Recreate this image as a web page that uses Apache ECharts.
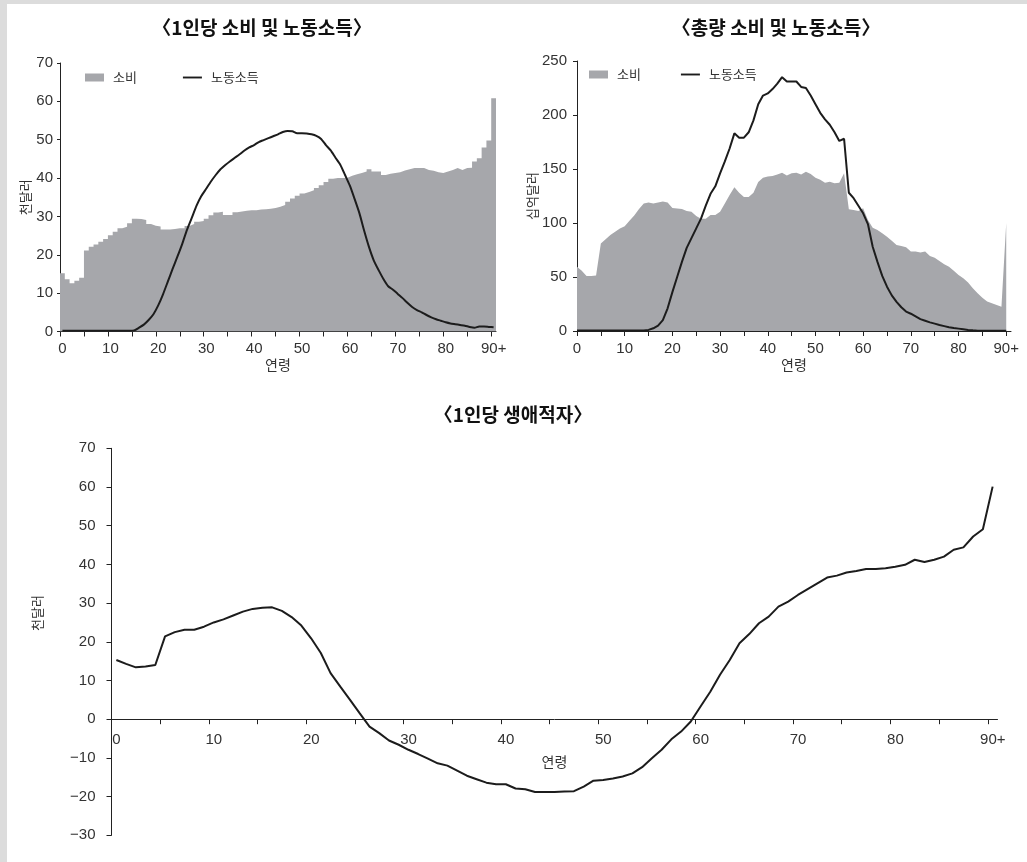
<!DOCTYPE html>
<html>
<head>
<meta charset="utf-8">
<script src="https://cdn.jsdelivr.net/npm/echarts@6/dist/echarts.min.js"></script>
<style>
	html, body { margin: 0; padding: 0; background: #dcdcdc; }
	.paper { position: absolute; left: 7px; top: 4px; right: 0; bottom: 0; background: #fff; }
	#main { position: absolute; left: 0; top: 0; width: 1027px; height: 862px; }
</style>
</head>
<body>
<div class="paper"></div>
<div id="main"></div>
<script>
	// 연령 0 ~ 90+
	var ages = [];
	for (var i = 0; i <= 90; i++) ages.push(i);
	var ageTicks = [0, 5, 10, 15, 20, 25, 30, 35, 40, 45, 50, 55, 60, 65, 70, 75, 80, 85, 90];
	var ageLabels = [0, 10, 20, 30, 40, 50, 60, 70, 80, 90];

	// 1인당 소비 (천달러)
	var perCapitaConsumption = [
		15.2, 13.6, 12.6, 13.2, 14.0, 21.1, 22.1, 22.7, 23.4, 24.1,
		25.1, 26.0, 26.9, 27.3, 28.2, 29.4, 29.3, 29.1, 28.0, 27.6,
		27.4, 26.6, 26.6, 26.7, 26.9, 26.9, 27.5, 28.0, 28.6, 28.8,
		29.4, 30.3, 31.0, 31.2, 30.4, 30.4, 31.1, 31.3, 31.5, 31.6,
		31.6, 31.8, 31.9, 32.0, 32.2, 32.5, 33.0, 33.8, 34.7, 35.4,
		36.0, 36.4, 36.8, 37.4, 38.1, 39.0, 39.8, 40.0, 40.0, 40.1,
		40.6, 41.0, 41.3, 41.7, 42.3, 41.7, 41.7, 40.8, 41.1, 41.3,
		41.5, 42.0, 42.3, 42.6, 42.6, 42.6, 42.1, 41.9, 41.5, 41.3,
		41.7, 42.1, 42.6, 42.1, 42.6, 42.7, 44.3, 45.2, 48.0, 49.8,
		60.8
	];
	// 1인당 노동소득 (천달러)
	var perCapitaLaborIncome = [
		0.2, 0.2, 0.2, 0.2, 0.2, 0.2, 0.2, 0.2, 0.2, 0.2,
		0.2, 0.2, 0.2, 0.2, 0.2, 0.3, 1.0, 1.8, 3.0, 4.5,
		6.8, 9.7, 13.0, 16.3, 19.5, 22.8, 26.5, 29.6, 32.8, 35.3,
		37.2, 39.1, 40.8, 42.3, 43.4, 44.4, 45.3, 46.2, 47.2, 48.0,
		48.6, 49.4, 49.9, 50.4, 50.9, 51.4, 52.0, 52.3, 52.2, 51.7,
		51.7, 51.6, 51.4, 51.0, 50.2, 48.6, 47.2, 45.3, 43.5, 40.8,
		38.0, 34.5, 30.8, 26.2, 22.0, 18.5, 16.0, 13.7, 11.8, 10.9,
		9.8, 8.7, 7.5, 6.4, 5.6, 5.0, 4.3, 3.7, 3.2, 2.8,
		2.4, 2.1, 1.9, 1.7, 1.5, 1.2, 1.0, 1.3, 1.3, 1.2,
		1.1
	];
	// 총량 소비 (십억달러)
	var totalConsumption = [
		59.6, 55.9, 51.0, 51.0, 51.5, 81, 85, 89, 92, 95,
		97, 102, 107, 113, 118, 119, 118, 119, 120, 119,
		114, 113.5, 113, 111, 110.5, 106.5, 104, 104, 107.5, 107.5,
		110.5, 118, 126, 133, 128, 124, 124, 128, 138, 142,
		143, 143.5, 145, 146.6, 144, 146, 146.6, 145, 147.5, 145.4,
		142, 140, 137.3, 138.3, 136.7, 137.3, 146, 112.7, 112, 111,
		113.6, 102.8, 95.7, 93.5, 90.4, 87.3, 83.6, 79.6, 78.7, 77.5,
		73.5, 73.5, 72.8, 73.5, 69.4, 67.9, 64.8, 61.7, 59.6, 55.9,
		51.9, 48.8, 44.8, 39.5, 34.9, 30.9, 27.2, 25.6, 24.1, 22.5,
		100
	];
	// 총량 노동소득 (십억달러)
	var totalLaborIncome = [
		0.5, 0.5, 0.5, 0.5, 0.5, 0.5, 0.5, 0.5, 0.5, 0.5,
		0.5, 0.5, 0.5, 0.5, 0.5, 1, 2.5, 5, 10, 21,
		36, 50, 64, 77, 86, 95, 104, 116, 127, 134,
		146, 157, 169, 183, 179, 179, 184, 195, 210, 218,
		220, 224, 229, 235, 231, 231, 231, 226, 225, 218,
		210, 202, 196, 191, 184, 176, 178, 128, 123, 116,
		109, 99, 78, 64, 51, 41, 33, 27, 22, 18,
		16, 13.5, 11, 9.5, 8, 6.8, 5.5, 4.5, 3.5, 2.8,
		2.2, 1.6, 1.0, 0.6, 0.3, 0.2, 0.2, 0.2, 0.2, 0.2,
		0.2
	];
	// 1인당 생애적자 (천달러)
	var lifecycleDeficit = [
		15.3, 14.3, 13.4, 13.6, 14.0, 21.4, 22.5, 23.1, 23.1, 23.9,
		25.0, 25.8, 26.8, 27.8, 28.5, 28.8, 28.9, 28.0, 26.4, 24.2,
		20.9, 17.1, 11.9, 8.4, 5.0, 1.5, -1.9, -3.6, -5.5, -6.6,
		-7.9, -9.0, -10.2, -11.4, -12.0, -13.3, -14.6, -15.5, -16.4, -16.8,
		-16.8, -17.9, -18.1, -18.8, -18.8, -18.8, -18.7, -18.6, -17.4, -15.9,
		-15.7, -15.3, -14.8, -14.0, -12.4, -10.1, -7.9, -5.2, -3.2, -0.6,
		3.3, 7.1, 11.5, 15.3, 19.6, 22.0, 24.8, 26.5, 29.1, 30.4,
		32.1, 33.6, 35.1, 36.6, 37.1, 37.9, 38.3, 38.8, 38.8, 39.0,
		39.4, 39.9, 41.2, 40.6, 41.2, 42.0, 43.8, 44.4, 47.2, 49.1,
		60.1
	];

	var numFont = "'Liberation Sans', Arial, sans-serif";
	var krFont = "'Noto Sans CJK KR', sans-serif";
	var axisColor = '#222';
	var textColor = '#333';
	var areaColor = '#a6a7ab';
	var lineColor = '#1c1c1c';

	// 막대(계단) 데이터: 각 연령 구간 [a, a+1]
	var stepData = ages.map(function (a, i) { return [a, perCapitaConsumption[i]]; });
	stepData.push([91, perCapitaConsumption[90]]);
	// 선은 연령 구간의 가운데에
	var midPoints = function (arr) {
		return ages.map(function (a, i) { return [a + 0.5, arr[i]]; });
	};
	var atAges = function (arr) {
		return ages.map(function (a, i) { return [a, arr[i]]; });
	};

	function ageAxis(gridIndex, shift, margin, nameGap) {
		return {
			type: 'value',
			gridIndex: gridIndex,
			min: 0,
			max: 91,
			name: '연령',
			nameLocation: 'middle',
			nameGap: nameGap,
			nameTextStyle: { color: textColor, fontSize: 14, fontFamily: krFont },
			axisLine: { show: true, onZero: false, lineStyle: { color: axisColor, width: 1 } },
			axisTick: { show: true, length: 5, inside: false, customValues: ageTicks, lineStyle: { color: axisColor } },
			axisLabel: {
				customValues: ageLabels,
				margin: margin,
				padding: [0, 0, 0, shift],
				color: textColor,
				fontSize: 15,
				fontFamily: numFont,
				formatter: function (v) { return v === 90 ? '90+' : String(v); }
			},
			splitLine: { show: false }
		};
	}

	function valueAxis(gridIndex, min, max, interval, tickLen, margin, name, nameGap) {
		return {
			type: 'value',
			gridIndex: gridIndex,
			min: min,
			max: max,
			interval: interval,
			name: name,
			nameLocation: 'middle',
			nameGap: nameGap,
			nameRotate: 90,
			nameTextStyle: { color: textColor, fontSize: 13, fontFamily: krFont },
			axisLine: { show: true, onZero: false, lineStyle: { color: axisColor, width: 1 } },
			axisTick: { show: true, length: tickLen, lineStyle: { color: axisColor } },
			axisLabel: {
				margin: margin,
				color: textColor,
				fontSize: 15,
				fontFamily: numFont,
				formatter: function (v) { return v < 0 ? '\u2212' + Math.abs(v) : String(v); }
			},
			splitLine: { show: false }
		};
	}

	var legendBase = function (left, top, gap) {
		return {
			left: left,
			top: top,
			padding: 0,
			orient: 'horizontal',
			itemWidth: 19,
			itemHeight: 8,
			itemGap: gap,
			selectedMode: false,
			textStyle: { color: textColor, fontSize: 13, fontFamily: krFont, padding: [0, 0, 0, 4] },
			data: [
				{ name: '소비', icon: 'rect' },
				{ name: '노동소득', icon: 'path://M0,0 L20,0 L20,2 L0,2 Z' }
			]
		};
	};

	// 생애적자 그래프: 가로축을 0 위치로 올림
	var deficitGrid = { left: 111.5, top: 448.3, width: 886, height: 387, outerBoundsMode: 'none' };
	var deficitMin = -30, deficitMax = 70;
	var zeroOffset = -deficitGrid.height * (0 - deficitMin) / (deficitMax - deficitMin);

	var deficitX = ageAxis(2, 10, 13, 35);
	deficitX.offset = zeroOffset;

	var deficitY = valueAxis(2, deficitMin, deficitMax, 10, 5, 16, '', 0);

	var option = {
		animation: false,
		backgroundColor: 'transparent',
		graphic: [
			{ type: 'text', x: 262, y: 28, style: { text: '〈1인당 소비 및 노동소득〉', font: 'bold 19px ' + krFont, fill: '#111', align: 'center', verticalAlign: 'middle' } },
			{ type: 'text', x: 776, y: 28, style: { text: '〈총량 소비 및 노동소득〉', font: 'bold 19px ' + krFont, fill: '#111', align: 'center', verticalAlign: 'middle' } },
			{ type: 'text', x: 513, y: 415, style: { text: '〈1인당 생애적자〉', font: 'bold 19px ' + krFont, fill: '#111', align: 'center', verticalAlign: 'middle' } },
			{ type: 'text', x: 37, y: 613, rotation: Math.PI / 2, style: { text: '천달러', font: '13px ' + krFont, fill: textColor, align: 'center', verticalAlign: 'middle' } }
		],
		legend: [legendBase(85, 71, 46), legendBase(589, 68, 40)],
		grid: [
			{ left: 60, top: 63, width: 436, height: 268.5, outerBoundsMode: 'none' },
			{ left: 577, top: 61, width: 434, height: 270, outerBoundsMode: 'none' },
			deficitGrid
		],
		xAxis: [
			ageAxis(0, 5, 10, 26),
			ageAxis(1, 0, 10, 27),
			deficitX
		],
		yAxis: [
			valueAxis(0, 0, 70, 10, 3, 7, '천달러', 28),
			valueAxis(1, 0, 250, 50, 4, 10, '십억달러', 23),
			deficitY
		],
		series: [
			{
				name: '소비',
				type: 'line',
				xAxisIndex: 0,
				yAxisIndex: 0,
				step: 'end',
				symbol: 'none',
				itemStyle: { color: areaColor },
				lineStyle: { width: 0 },
				areaStyle: { color: areaColor, opacity: 1 },
				data: stepData
			},
			{
				name: '노동소득',
				type: 'line',
				xAxisIndex: 0,
				yAxisIndex: 0,
				symbol: 'none',
				smooth: 0.2,
				itemStyle: { color: lineColor },
				lineStyle: { color: lineColor, width: 2 },
				data: midPoints(perCapitaLaborIncome)
			},
			{
				name: '소비',
				type: 'line',
				xAxisIndex: 1,
				yAxisIndex: 1,
				symbol: 'none',
				itemStyle: { color: areaColor },
				lineStyle: { width: 0 },
				areaStyle: { color: areaColor, opacity: 1 },
				data: atAges(totalConsumption)
			},
			{
				name: '노동소득',
				type: 'line',
				xAxisIndex: 1,
				yAxisIndex: 1,
				symbol: 'none',
				itemStyle: { color: lineColor },
				lineStyle: { color: lineColor, width: 2 },
				data: atAges(totalLaborIncome)
			},
			{
				name: '생애적자',
				type: 'line',
				xAxisIndex: 2,
				yAxisIndex: 2,
				symbol: 'none',
				itemStyle: { color: lineColor },
				lineStyle: { color: lineColor, width: 2 },
				data: midPoints(lifecycleDeficit)
			}
		]
	};

	var myChart = echarts.init(document.getElementById('main'));
	myChart.setOption(option);
</script>
</body>
</html>
